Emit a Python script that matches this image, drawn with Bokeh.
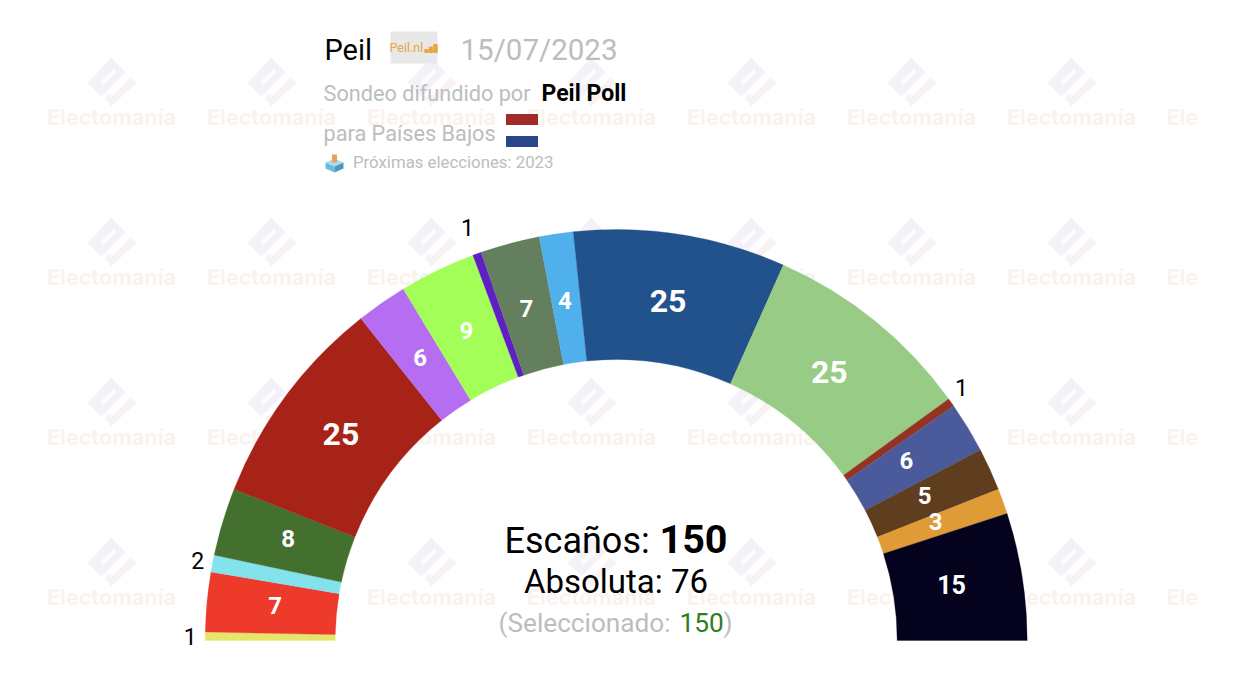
import numpy as np
from bokeh.plotting import figure
from bokeh.models import ColumnDataSource
from bokeh.embed import file_html
from bokeh.resources import INLINE
from bokeh.core.properties import value

seats = [1, 7, 2, 8, 25, 6, 9, 1, 7, 4, 25, 25, 1, 6, 5, 3, 15]
colors = ["#E5E56B", "#EE3A2A", "#83E2EC", "#44702F", "#A82317", "#B56DF2", "#A3FF57",
          "#5F1FC5", "#647F5E", "#4FB0EC", "#22528C", "#97CB86", "#953322", "#4A5A9A",
          "#5F3E1F", "#DF9B36", "#04021C"]
total = 150
majority = 76
selected = 150
title = "Peil"
date = "15/07/2023"

W, H = 1226, 674
CX, CY, R0, R1 = 615.7, 640, 281, 411
def Y(py):
    return 690 - py

p = figure(width=W, height=H, x_range=(0, W), y_range=(690 - H, 690),
           output_backend="svg", toolbar_location=None, min_border=0,
           background_fill_color="white", border_fill_color="white", outline_line_color=None)
p.axis.visible = False
p.grid.visible = False

# Watermark
wx = np.arange(111, 1100, 160)
wy = np.arange(117, 600, 160)
gx, gy = np.meshgrid(wx, wy)
gx = gx.ravel(); gy = gy.ravel()
p.text(gx, Y(gy - 0.5), text=["Electomanía"] * len(gx), text_font=value("Inter"), text_font_style="bold",
       text_font_size="21.5px", text_color="#FBF2EF", text_align="center", text_baseline="middle")
p.text([1166] * len(wy), Y(wy - 0.5), text=["Ele"] * len(wy), text_font=value("Inter"), text_font_style="bold",
       text_font_size="21.5px", text_color="#FBF2EF", text_align="left", text_baseline="middle")
def shape(pts):
    return ([[a + dx for dx, _ in pts] for a in gx], [[Y(b + dy) for _, dy in pts] for b in gy])
body = [(0, -60), (-24, -35), (-10, -21), (14, -45)]
slot = [(3, -49), (5, -45), (-8, -32), (-11, -36)]
check = [(-7, -19), (0, -11), (25, -35), (19, -40), (1, -22), (-2, -24)]
p.patches(*shape(body), fill_color="#F5F1F9", line_color=None)
p.patches(*shape(slot), fill_color="#FCFBFD", line_color=None)
p.patches(*shape(check), fill_color="#FAF2F0", line_color=None)

# Hemicycle
s = np.array(seats, dtype=float)
c1 = np.cumsum(s); c0 = c1 - s
start = np.pi - c0 / total * np.pi
end = np.pi - c1 / total * np.pi
mid = (start + end) / 2
src = ColumnDataSource(dict(start=start, end=end, color=colors))
p.annular_wedge(x=CX, y=Y(CY), inner_radius=R0, outer_radius=R1, start_angle="start", end_angle="end",
                direction="clock", fill_color="color", line_color="color", line_width=0.3, source=src)

# Seat labels
for i, n in enumerate(seats):
    if n >= 3:
        r = 341
        size = 32 if n >= 25 else 25 if n >= 15 else 24
        p.text([CX - 1.5 + r * np.cos(mid[i])], [Y(CY) + 3 + r * np.sin(mid[i])], text=[str(n)],
               text_font=value("Roboto"), text_font_style="bold", text_font_size=f"{size}px",
               text_color="white", text_align="center", text_baseline="middle")
    else:
        r = 439 if i == 7 else 426
        dx, dy = (-2, 6) if i == 12 else (0, 0)
        p.text([CX + dx + r * np.cos(mid[i])], [Y(CY) + dy + r * np.sin(mid[i])], text=[str(n)],
               text_font=value("Roboto"), text_font_size="23px",
               text_color="black", text_align="center", text_baseline="middle")

def T(x, y, t, size, color="black", style="normal", align="left", font="Roboto"):
    p.text([x], [Y(y)], text=[t], text_font=value(font), text_font_style=style, text_font_size=f"{size}px",
           text_color=color, text_align=align, text_baseline="middle")

# Header
GREY = "#BDBDBD"
T(324, 49, title, 29)
p.rect([413.5], [Y(47)], width=47, height=32, fill_color="#E8E8E8", line_color=None)
T(389, 47, "Peil.nl", 12.5, color="#E6A63F")
p.vbar(x=[426, 430.5, 435], bottom=Y(52), top=[Y(49), Y(46.5), Y(44)], width=3.4, color="#E6A63F")
T(460, 49.5, date, 29.5, color=GREY)
T(323, 92.5, "Sondeo difundido por", 21.7, color=GREY)
T(541, 92.5, "Peil Poll", 23, style="bold")
T(323, 133, "para Países Bajos", 21.7, color=GREY)
p.rect([521.5, 521.5], [Y(119), Y(141)], width=32, height=11, fill_color=["#A12B2B", "#2A4589"], line_color=None)
cube_x = [[325, 334, 343, 334], [325, 334, 334, 325], [334, 343, 343, 334]]
cube_y = [[Y(162), Y(158), Y(162), Y(166)], [Y(162), Y(166), Y(172), Y(168)], [Y(166), Y(162), Y(168), Y(172)]]
p.patches(cube_x, cube_y, fill_color=["#A8DCEE", "#6BBBDD", "#4A98C0"], line_color=None)
p.rect([334], [Y(158)], width=5, height=8, fill_color="#E8A35A", line_color=None)
T(352.5, 161.5, "Próximas elecciones: 2023", 16.8, color=GREY)

# Centre
T(504, 540, "Escaños:", 36)
T(659, 538, str(total), 39.5, style="bold")
T(615.5, 581, f"Absoluta: {majority}", 33, align="center")
T(498, 622, "(Seleccionado:", 26.2, color=GREY)
T(679, 622, str(selected), 26.2, color="#2E7D1E")
T(723, 622, ")", 26.2, color=GREY)

open("out.html", "w").write(file_html(p, INLINE))
